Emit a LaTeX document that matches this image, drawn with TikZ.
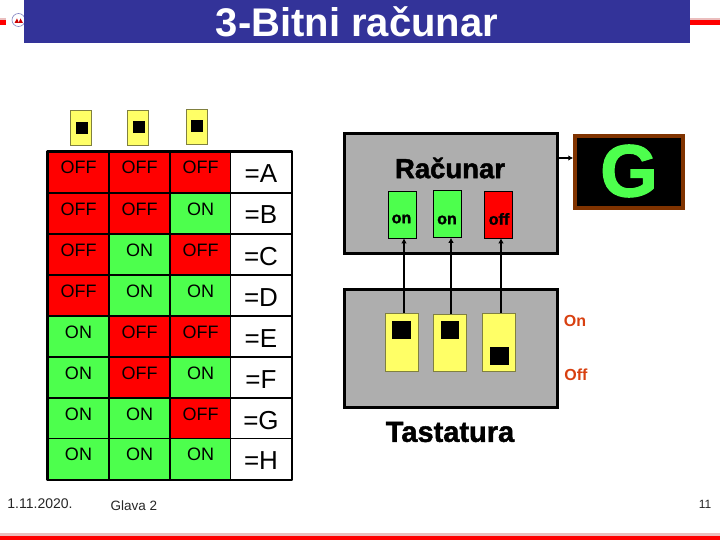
\documentclass[tikz,border=0pt]{standalone}
\usepackage{fontspec}
\setmainfont{Liberation Sans}
\newfontfamily\heavyfont[FakeBold=1.6]{Liberation Sans Bold}
\usepackage{xcolor}
\usepackage{tikz}
\usetikzlibrary{arrows.meta, positioning, calc}
\definecolor{themeblue}{RGB}{51, 51, 153}
\definecolor{themegray}{RGB}{174, 174, 174}
\definecolor{themegreen}{RGB}{77, 255, 77}
\definecolor{themeyellow}{RGB}{255, 255, 102}
\definecolor{themebrown}{RGB}{128, 51, 0}
\definecolor{themeorange}{RGB}{216, 64, 16}
\definecolor{themeedge}{RGB}{128, 128, 64}
\definecolor{themepink}{RGB}{235, 190, 190}
\tikzset{
    cellbase/.style={draw=black, line width=1.3pt, inner sep=0pt, minimum width=61pt, text width=61pt, align=center, font=\fontsize{18}{18}\selectfont, text height=22pt, text depth=19pt},
    offcell/.style={cellbase, fill=red},
    oncell/.style={cellbase, fill=themegreen},
    lettercell/.style={cellbase, fill=white, font=\fontsize{26}{26}\selectfont, text height=31pt, text depth=10pt},
    switchbox/.style={draw=themeedge, line width=0.8pt, fill=themeyellow, inner sep=0pt},
    knob/.style={fill=black, inner sep=0pt},
    panel/.style={draw=black, line width=3pt, fill=themegray, inner sep=0pt, minimum width=213pt},
    lamp/.style={draw=black, line width=0.6pt, inner sep=0pt, minimum width=28pt, minimum height=47pt},
    lamptext/.style={font=\heavyfont\fontsize{16}{16}\selectfont},
    sidetext/.style={font=\bfseries\fontsize{16}{16}\selectfont, text=themeorange},
    foottext/.style={font=\fontsize{14}{14}\selectfont, text=black!85},
    wire/.style={-{Latex[length=5pt,width=5.5pt]}, line width=1.5pt}
}
\begin{document}
\begin{tikzpicture}[x=1pt, y=-1pt]
    \useasboundingbox (0,0) rectangle (720,540);

    % slide frame
    \fill[themepink] (0,18) rectangle (6,20);
    \fill[themepink] (690,18) rectangle (720,20);
    \fill[red] (0,20) rectangle (6,25);
    \fill[red] (690,20) rectangle (720,25);
    \fill[themepink] (0,533) rectangle (720,536);
    \fill[red] (0,536) rectangle (720,540);
    \draw[themeblue!60, line width=0.6pt, fill=white] (18.5,20) circle (6.5);
    \fill[red!80!black] (14.5,23) -- (17,18.5) -- (19,23) -- cycle;
    \fill[red!80!black] (18.5,23) -- (20.5,18.5) -- (23,23) -- cycle;
    \node[fill=themeblue, minimum width=666pt, minimum height=43pt, inner sep=0pt] (titlebar) at (357,21.5) {};
    \node[text=white, font=\bfseries\fontsize{40}{40}\selectfont] (title) at (357,22) {3-Bitni računar};

    % small switches
    \node[switchbox, minimum width=21pt, minimum height=35pt] (topa) at (81,128) {};
    \node[switchbox, minimum width=21pt, minimum height=35pt] (topb) at (138,127.5) {};
    \node[switchbox, minimum width=21pt, minimum height=35pt] (topc) at (197,127) {};
    \node[knob, minimum size=12pt] (knoba) at (82,128) {};
    \node[knob, minimum size=12pt] (knobb) at (139,127.5) {};
    \node[knob, minimum size=12pt] (knobc) at (197,126) {};

    % table
    \node[offcell, minimum height=41pt] (a1) at (78.5,172.5) {OFF};
    \node[offcell, minimum height=41pt] (a2) at (139.5,172.5) {OFF};
    \node[offcell, minimum height=41pt] (a3) at (200.5,172.5) {OFF};
    \node[lettercell, minimum height=41pt] (a4) at (261,172.5) {=A};
    \node[offcell, minimum height=41pt] (b1) at (78.5,213.5) {OFF};
    \node[offcell, minimum height=41pt] (b2) at (139.5,213.5) {OFF};
    \node[oncell, minimum height=41pt] (b3) at (200.5,213.5) {ON};
    \node[lettercell, minimum height=41pt] (b4) at (261,213.5) {=B};
    \node[offcell, minimum height=41pt] (c1) at (78.5,254.5) {OFF};
    \node[oncell, minimum height=41pt] (c2) at (139.5,254.5) {ON};
    \node[offcell, minimum height=41pt] (c3) at (200.5,254.5) {OFF};
    \node[lettercell, minimum height=41pt] (c4) at (261,254.5) {=C};
    \node[offcell, minimum height=41pt] (d1) at (78.5,295.5) {OFF};
    \node[oncell, minimum height=41pt] (d2) at (139.5,295.5) {ON};
    \node[oncell, minimum height=41pt] (d3) at (200.5,295.5) {ON};
    \node[lettercell, minimum height=41pt] (d4) at (261,295.5) {=D};
    \node[oncell, minimum height=41pt] (e1) at (78.5,336.5) {ON};
    \node[offcell, minimum height=41pt] (e2) at (139.5,336.5) {OFF};
    \node[offcell, minimum height=41pt] (e3) at (200.5,336.5) {OFF};
    \node[lettercell, minimum height=41pt] (e4) at (261,336.5) {=E};
    \node[oncell, minimum height=41pt] (f1) at (78.5,377.5) {ON};
    \node[offcell, minimum height=41pt] (f2) at (139.5,377.5) {OFF};
    \node[oncell, minimum height=41pt] (f3) at (200.5,377.5) {ON};
    \node[lettercell, minimum height=41pt] (f4) at (261,377.5) {=F};
    \node[oncell, minimum height=41pt] (g1) at (78.5,418.5) {ON};
    \node[oncell, minimum height=41pt] (g2) at (139.5,418.5) {ON};
    \node[offcell, minimum height=41pt] (g3) at (200.5,418.5) {OFF};
    \node[lettercell, minimum height=41pt] (g4) at (261,418.5) {=G};
    \node[oncell, minimum height=41pt] (h1) at (78.5,459) {ON};
    \node[oncell, minimum height=41pt] (h2) at (139.5,459) {ON};
    \node[oncell, minimum height=41pt] (h3) at (200.5,459) {ON};
    \node[lettercell, minimum height=41pt] (h4) at (261,459) {=H};
    \draw[line width=2.5pt, line join=round] (a1.north west) rectangle (h4.south east);

    % computer
    \node[panel, minimum height=119pt] (racunar) at (450.5,193.5) {};
    \node[font=\heavyfont\fontsize{27.5}{27.5}\selectfont] (racunartext) at (450,168) {Računar};
    \node[lamp, fill=themegreen] (ona) at (402,214.5) {};
    \node[lamp, fill=themegreen] (onb) at (447.5,214) {};
    \node[lamp, fill=red] (onc) at (498.5,214.5) {};
    \node[lamptext] at (401.5,219) {on};
    \node[lamptext] at (447,220) {on};
    \node[lamptext] at (499,219) {off};

    % display
    \node[draw=themebrown, line width=3.5pt, fill=black, minimum width=108pt, minimum height=72pt, inner sep=0pt] (display) at (629,172) {};
    \node[text=themegreen, font=\heavyfont\fontsize{74}{74}\selectfont] (letter) at (629,171) {G};

    % keyboard
    \node[panel, minimum height=118pt] (tastatura) at (450.5,348) {};
    \node[switchbox, minimum width=33pt, minimum height=58pt] (swa) at (401.5,342) {};
    \node[switchbox, minimum width=33pt, minimum height=57pt] (swb) at (449.5,342.5) {};
    \node[switchbox, minimum width=33pt, minimum height=58pt] (swc) at (498.5,342) {};
    \node[knob, minimum width=19pt, minimum height=18pt] (knobd) at (401.5,330) {};
    \node[knob, minimum width=18pt, minimum height=18pt] (knobe) at (449.5,330) {};
    \node[knob, minimum width=19pt, minimum height=18pt] (knobf) at (499.5,356) {};
    \node[font=\heavyfont\fontsize{29}{29}\selectfont] (tastaturatext) at (450,432) {Tastatura};
    \node[sidetext] (ontext) at (575,321) {On};
    \node[sidetext] (offtext) at (576,375) {Off};

    % connectors
    \draw[wire] ([xshift=2.5pt]swa.north) -- ([xshift=2pt]ona.south);
    \draw[wire] ([xshift=1.5pt]swb.north) -- ([xshift=3.5pt]onb.south);
    \draw[wire] ([xshift=2.5pt]swc.north) -- ([xshift=2.5pt]onc.south);
    \draw[wire] ([yshift=35.5pt]racunar.east) -- ([yshift=14pt]display.west);

    % footer
    \node[foottext] (datetext) at (40,504) {1.11.2020.};
    \node[foottext, font=\fontsize{13.5}{13.5}\selectfont] (chaptertext) at (134,506) {Glava 2};
    \node[foottext, font=\fontsize{12}{12}\selectfont] (pagetext) at (705,504) {11};
\end{tikzpicture}
\end{document}
